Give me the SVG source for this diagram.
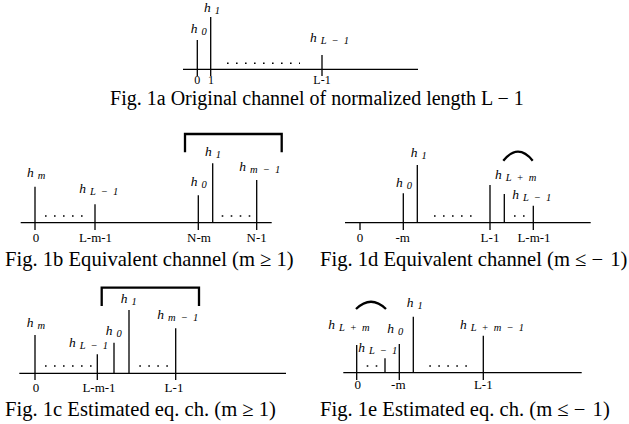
<svg xmlns="http://www.w3.org/2000/svg" width="629" height="424" viewBox="0 0 629 424">
<style>
.ax{stroke:#000;stroke-width:1.3;fill:none}
.st{stroke:#000;stroke-width:1.3;fill:none}
.br{stroke:#000;stroke-width:2.3;fill:none}
.dt{stroke:#000;stroke-width:1.4;fill:none;stroke-dasharray:1.6 7.4}
.h{font-family:"Liberation Serif",serif;font-style:italic;font-size:13.5px;fill:#000}
.s{font-size:10.5px;word-spacing:2.5px}
.t{font-family:"Liberation Serif",serif;font-size:13px;fill:#000;text-anchor:middle}
.ta{font-size:12px}
.c{font-family:"Liberation Serif",serif;font-size:20.6px;fill:#000}
.ca{font-size:20px}
</style>
<rect width="629" height="424" fill="#fff"/>
<g id="fig1a">
<path class="ax" d="M183 69.3H418"/>
<path class="st" d="M197.3 40V76M210.7 17V76M322 55V76"/>
<path class="dt" d="M227 63.3H300"/>
<text class="h" x="190.7" y="33">h<tspan class="s" dx="4" dy="2">0</tspan></text>
<text class="h" x="204" y="12">h<tspan class="s" dx="4" dy="2">1</tspan></text>
<text class="h" x="310" y="42">h<tspan class="s" dx="4" dy="2">L − 1</tspan></text>
<text class="t ta" x="197.3" y="84">0</text>
<text class="t ta" x="211" y="84">1</text>
<text class="t ta" x="322" y="84">L-1</text>
<text class="c ca" x="317" y="105" text-anchor="middle">Fig. 1a Original channel of normalized length L − 1</text>
</g>
<g id="fig1b">
<path class="ax" d="M20.7 222.7H271.7"/>
<path class="st" d="M35 186.7V230M95 204.3V230M198.3 195.3V230M212.7 163.3V222.7M256.7 180V230"/>
<path class="br" d="M185 152.3V134H281.7V152.3"/>
<path class="dt" d="M45 216H83"/>
<path class="dt" d="M221.7 216H252"/>
<text class="h" x="27" y="177.3">h<tspan class="s" dx="4" dy="2">m</tspan></text>
<text class="h" x="79.3" y="193.3">h<tspan class="s" dx="4" dy="2">L − 1</tspan></text>
<text class="h" x="190.7" y="185.7">h<tspan class="s" dx="4" dy="2">0</tspan></text>
<text class="h" x="205" y="155.7">h<tspan class="s" dx="4" dy="2">1</tspan></text>
<text class="h" x="239.3" y="170.7">h<tspan class="s" dx="4" dy="2">m − 1</tspan></text>
<text class="t" x="36" y="241.7">0</text>
<text class="t" x="95.5" y="241.7">L-m-1</text>
<text class="t" x="199" y="241.7">N-m</text>
<text class="t" x="256.7" y="241.7">N-1</text>
<text class="c" x="5" y="266">Fig. 1b Equivalent channel (m ≥ 1)</text>
</g>
<g id="fig1d">
<path class="ax" d="M345 222.7H590.7"/>
<path class="st" d="M360 222.7V230M403.3 193.3V230M417.3 165V222.7M490 185V230M504.3 194V222.7M533.3 205.7V230"/>
<path class="br" d="M503.3 160.7Q518 142.7 532.7 160.7"/>
<path class="dt" d="M434 216H474"/>
<path class="dt" d="M514 216H526"/>
<text class="h" x="410.7" y="157.3">h<tspan class="s" dx="4" dy="2">1</tspan></text>
<text class="h" x="396" y="186.7">h<tspan class="s" dx="4" dy="2">0</tspan></text>
<text class="h" x="495" y="179">h<tspan class="s" dx="4" dy="2">L + m</tspan></text>
<text class="h" x="512.3" y="199">h<tspan class="s" dx="4" dy="2">L − 1</tspan></text>
<text class="t" x="360" y="242">0</text>
<text class="t" x="402.7" y="242">-m</text>
<text class="t" x="490" y="242">L-1</text>
<text class="t" x="534" y="242">L-m-1</text>
<text class="c" x="320" y="266">Fig. 1d Equivalent channel (m ≤ − <tspan dx="2">1)</tspan></text>
</g>
<g id="fig1c">
<path class="ax" d="M19.3 373.3H286"/>
<path class="st" d="M35 335V380M97.3 354.3V380M114 342.7V373.3M129 310V373.3M175.7 328.3V380"/>
<path class="br" d="M101.7 306V287.7H199V306"/>
<path class="dt" d="M45 366H92"/>
<path class="dt" d="M139.3 366H169"/>
<text class="h" x="26.7" y="326.7">h<tspan class="s" dx="4" dy="2">m</tspan></text>
<text class="h" x="69" y="346.7">h<tspan class="s" dx="4" dy="2">L − 1</tspan></text>
<text class="h" x="105.7" y="335">h<tspan class="s" dx="4" dy="2">0</tspan></text>
<text class="h" x="120.7" y="302.7">h<tspan class="s" dx="4" dy="2">1</tspan></text>
<text class="h" x="157.3" y="319">h<tspan class="s" dx="4" dy="2">m − 1</tspan></text>
<text class="t" x="36" y="391.7">0</text>
<text class="t" x="99" y="391.7">L-m-1</text>
<text class="t" x="174" y="391.7">L-1</text>
<text class="c" x="5" y="416">Fig. 1c Estimated eq. ch. (m ≥ 1)</text>
</g>
<g id="fig1e">
<path class="ax" d="M343.3 372.7H581.7"/>
<path class="st" d="M356.7 345V380M385 358.3V372.7M399.3 344V380M413.3 316.7V372.7M483.3 335.7V380"/>
<path class="br" d="M356 309Q371 294.4 386 309"/>
<path class="dt" d="M366.7 366H378"/>
<path class="dt" d="M429.3 366H468"/>
<text class="h" x="328.3" y="329">h<tspan class="s" dx="4" dy="2">L + m</tspan></text>
<text class="h" x="387.3" y="333.3">h<tspan class="s" dx="4" dy="2">0</tspan></text>
<text class="h" x="406.7" y="307.3">h<tspan class="s" dx="4" dy="2">1</tspan></text>
<text class="h" x="358.3" y="351.7">h<tspan class="s" dx="4" dy="2">L − 1</tspan></text>
<text class="h" x="460" y="329">h<tspan class="s" dx="4" dy="2">L + m − 1</tspan></text>
<text class="t" x="357.7" y="389.3">0</text>
<text class="t" x="398.3" y="389.3">-m</text>
<text class="t" x="483.3" y="389.3">L-1</text>
<text class="c" x="320" y="416">Fig. 1e Estimated eq. ch. (m ≤ − <tspan dx="2">1)</tspan></text>
</g>
</svg>
